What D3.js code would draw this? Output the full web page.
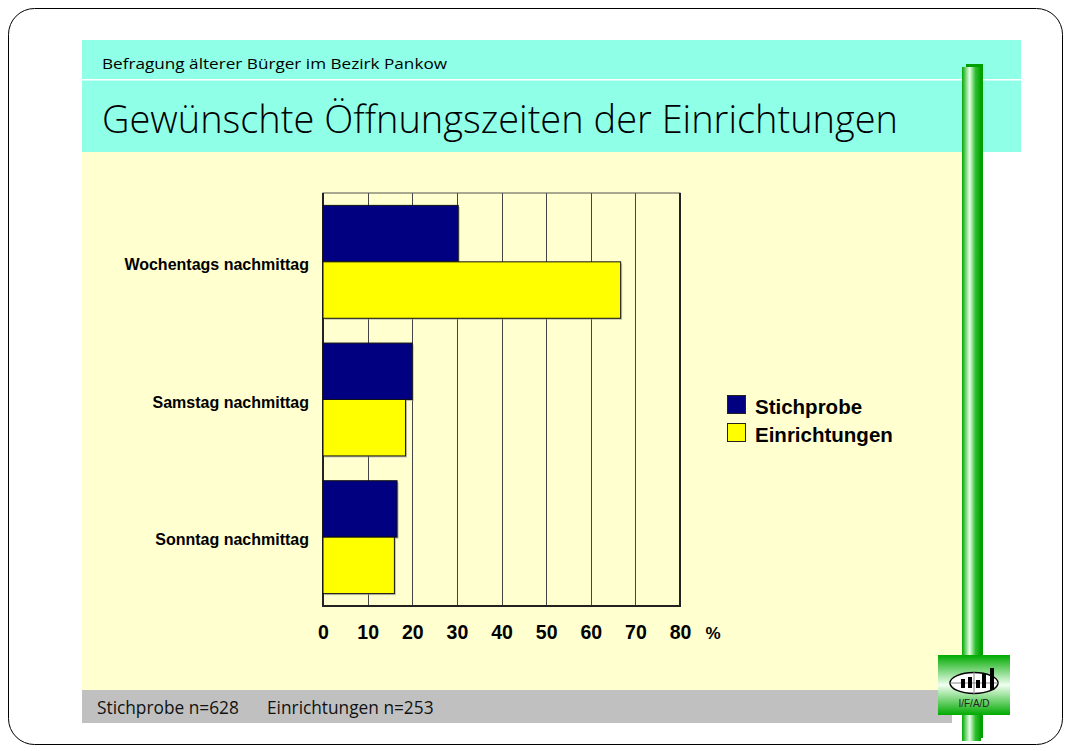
<!DOCTYPE html>
<html>
<head>
<meta charset="utf-8">
<script src="https://cdn.jsdelivr.net/npm/d3@7"></script>
<style>
  body { margin: 0; background: #fff; }
  svg { display: block; }
</style>
</head>
<body>
<div class="plot"></div>
<script>
// chart values
const categories = ["Wochentags nachmittag", "Samstag nachmittag", "Sonntag nachmittag"];
const seriesNames = ["Stichprobe", "Einrichtungen"];
const stichprobe = [30.3, 20.0, 16.6];
const einrichtungen = [66.7, 18.5, 16.0];
const xTicks = [0, 10, 20, 30, 40, 50, 60, 70, 80];
const colors = ["#000080", "#ffff00"];

const W = 1071, H = 751;
const svg = d3.select(".plot").append("svg")
    .attr("width", W).attr("height", H);

const defs = svg.append("defs");
// gradient for the green pole
const gPole = defs.append("linearGradient").attr("id", "pole").attr("x1", 0).attr("x2", 1).attr("y1", 0).attr("y2", 0);
gPole.append("stop").attr("offset", "0%").attr("stop-color", "#00a800");
gPole.append("stop").attr("offset", "40%").attr("stop-color", "#e8ffe8");
gPole.append("stop").attr("offset", "70%").attr("stop-color", "#30c030");
gPole.append("stop").attr("offset", "100%").attr("stop-color", "#00a000");
// gradient for the logo box
const gLogo = defs.append("linearGradient").attr("id", "logo").attr("x1", 0).attr("x2", 0).attr("y1", 0).attr("y2", 1);
gLogo.append("stop").attr("offset", "0%").attr("stop-color", "#00aa00");
gLogo.append("stop").attr("offset", "50%").attr("stop-color", "#f0fff0");
gLogo.append("stop").attr("offset", "100%").attr("stop-color", "#00aa00");

// slide frame
svg.append("rect")
    .attr("x", 8.5).attr("y", 8.5).attr("width", 1054).attr("height", 736)
    .attr("rx", 26).attr("fill", "#fff").attr("stroke", "#000").attr("stroke-width", 1);

// header bands
svg.append("rect").attr("x", 82).attr("y", 40).attr("width", 939).attr("height", 112).attr("fill", "#90ffe8");
svg.append("rect").attr("x", 82).attr("y", 79).attr("width", 939).attr("height", 1.5).attr("fill", "#fff");
// body and footer
svg.append("rect").attr("x", 82).attr("y", 152).attr("width", 885).attr("height", 538).attr("fill", "#ffffd0");
svg.append("rect").attr("x", 82).attr("y", 690).attr("width", 870).attr("height", 33).attr("fill", "#c0c0c0");

svg.append("text")
    .attr("x", 102).attr("y", 69)
    .attr("font-family", "Open Sans").attr("font-size", 15)
    .attr("textLength", 345).attr("lengthAdjust", "spacingAndGlyphs")
    .text("Befragung älterer Bürger im Bezirk Pankow");

svg.append("text")
    .attr("x", 102).attr("y", 133)
    .attr("font-family", "Open Sans").attr("font-weight", 300).attr("font-size", 38)
    .attr("textLength", 796).attr("lengthAdjust", "spacingAndGlyphs")
    .text("Gewünschte Öffnungszeiten der Einrichtungen");

svg.append("text")
    .attr("x", 97).attr("y", 714)
    .attr("font-family", "Open Sans").attr("font-size", 17.3)
    .attr("fill", "#111")
    .text("Stichprobe n=628");
svg.append("text")
    .attr("x", 267).attr("y", 714)
    .attr("font-family", "Open Sans").attr("font-size", 17.3)
    .attr("fill", "#111")
    .text("Einrichtungen n=253");

// green pole + logo
svg.append("rect").attr("x", 966).attr("y", 64).attr("width", 17).attr("height", 674).attr("fill", "#00a000");
svg.append("rect").attr("x", 962).attr("y", 67).attr("width", 19).attr("height", 674).attr("fill", "url(#pole)");
const logo = svg.append("g").attr("transform", "translate(938,655)");
logo.append("rect").attr("width", 72).attr("height", 60).attr("fill", "url(#logo)");
logo.append("ellipse").attr("cx", 36).attr("cy", 28).attr("rx", 24).attr("ry", 10.5)
    .attr("fill", "#fff").attr("stroke", "#000").attr("stroke-width", 1.5);
logo.append("line").attr("x1", 36).attr("x2", 36).attr("y1", 17).attr("y2", 39).attr("stroke", "#888");
logo.append("line").attr("x1", 12).attr("x2", 60).attr("y1", 28).attr("y2", 28).attr("stroke", "#888");
[[23, 24, 4, 9], [30, 22, 4, 11], [38, 25, 4, 8], [44, 19, 4, 14], [52, 13, 4, 22]].forEach(b => {
    logo.append("rect").attr("x", b[0]).attr("y", b[1]).attr("width", b[2]).attr("height", b[3]).attr("fill", "#000");
});
logo.append("text").attr("x", 36).attr("y", 52).attr("text-anchor", "middle")
    .attr("font-family", "Liberation Sans").attr("font-size", 10).attr("fill", "#222")
    .text("I/F/A/D");

// chart
const plot = {left: 323, right: 680, top: 193, bottom: 606};

const x = d3.scaleLinear().domain([0, 80]).range([plot.left, plot.right]);
const y = d3.scaleBand().domain(categories).range([plot.top, plot.bottom])
    .paddingInner(0.18).paddingOuter(0.09);
const ySub = d3.scaleBand().domain(seriesNames).range([0, y.bandwidth()]);

const g = svg.append("g");

// vertical grid lines
g.selectAll(".grid")
    .data(xTicks.slice(1, -1))
    .enter().append("line")
        .attr("x1", d => Math.round(x(d)) + 0.5).attr("x2", d => Math.round(x(d)) + 0.5)
        .attr("y1", plot.top).attr("y2", plot.bottom)
        .attr("stroke", "#444").attr("stroke-width", 1);

// frame of plot area
g.append("rect")
    .attr("x", plot.left).attr("y", plot.top)
    .attr("width", plot.right - plot.left).attr("height", plot.bottom - plot.top)
    .attr("fill", "none").attr("stroke", "#555").attr("stroke-width", 1);
g.append("path")
    .attr("d", `M${plot.left},${plot.top}V${plot.bottom}H${plot.right}V${plot.top}`)
    .attr("fill", "none").attr("stroke", "#222").attr("stroke-width", 2);

const rows = categories.map((c, i) => ({cat: c, vals: [stichprobe[i], einrichtungen[i]]}));

const groups = g.selectAll(".grp")
    .data(rows)
    .enter().append("g")
        .attr("transform", d => `translate(0,${y(d.cat)})`);

// shadow
groups.selectAll(".shadow")
    .data(d => d.vals.map((v, j) => ({v, s: seriesNames[j], j})))
    .enter().append("rect")
        .attr("x", x(0) + 1.5).attr("y", d => ySub(d.s) + 1.5)
        .attr("width", d => x(d.v) - x(0)).attr("height", ySub.bandwidth())
        .attr("fill", "#999").attr("opacity", 0.6);

groups.selectAll(".bar")
    .data(d => d.vals.map((v, j) => ({v, s: seriesNames[j], j})))
    .enter().append("rect")
        .attr("x", x(0)).attr("y", d => ySub(d.s))
        .attr("width", d => x(d.v) - x(0)).attr("height", ySub.bandwidth())
        .attr("fill", d => colors[d.j])
        .attr("stroke", "#111").attr("stroke-width", 1);

// axis labels
const xAxis = d3.axisBottom(x).tickValues(xTicks).tickSize(0).tickPadding(0);
const ax = svg.append("g")
    .attr("transform", `translate(0,${plot.bottom + 19})`)
    .call(xAxis);
ax.select(".domain").remove();
ax.selectAll("text")
    .attr("font-family", "Liberation Sans").attr("font-weight", "bold")
    .attr("font-size", 19.5).attr("fill", "#000");

svg.append("text")
    .attr("x", 713).attr("y", 639).attr("text-anchor", "middle")
    .attr("font-family", "Liberation Sans").attr("font-weight", "bold").attr("font-size", 17)
    .text("%");

const yAxis = d3.axisLeft(y).tickSize(0).tickPadding(0);
const ayg = svg.append("g")
    .attr("transform", `translate(309,0)`)
    .call(yAxis);
ayg.select(".domain").remove();
ayg.selectAll("text")
    .attr("dy", "0.5em")
    .attr("font-family", "Liberation Sans").attr("font-weight", "bold")
    .attr("font-size", 16).attr("fill", "#000");

// legend
const legend = svg.append("g").attr("transform", "translate(727,395)");
seriesNames.forEach((s, i) => {
    legend.append("rect")
        .attr("x", 0.5).attr("y", i * 28 + 0.5).attr("width", 18).attr("height", 18)
        .attr("fill", colors[i]).attr("stroke", "#222");
    legend.append("text")
        .attr("x", 28).attr("y", i * 28 + 19)
        .attr("font-family", "Liberation Sans").attr("font-weight", "bold").attr("font-size", 20.5)
        .text(s);
});
</script>
</body>
</html>
